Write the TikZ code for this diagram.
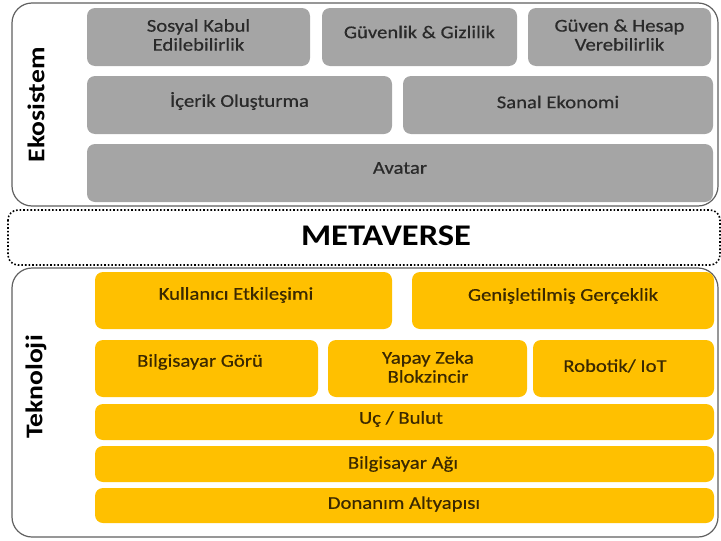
\documentclass[tikz,border=0pt]{standalone}
\usepackage{fontspec}
\setmainfont[FakeStretch=1.15]{Carlito}
\newfontfamily\boxfont[FakeStretch=1.15,FakeBold=0.5]{Carlito}
\definecolor{boxgray}{HTML}{A5A5A5}
\definecolor{boxyel}{HTML}{FFC000}
\definecolor{framegray}{HTML}{606060}
\definecolor{txtgray}{HTML}{2A2A2A}
\definecolor{txtyel}{HTML}{3A2800}
\begin{document}
\begin{tikzpicture}[x=1pt,y=-1pt,
  frame/.style={draw=framegray,line width=1.2pt,rounded corners=20pt},
  graybox/.style={fill=boxgray,rounded corners=8pt},
  yelbox/.style={fill=boxyel,rounded corners=8pt},
  gtext/.style={text=txtgray,font=\boxfont\fontsize{18}{19}\selectfont,align=center},
  ytext/.style={text=txtyel,font=\boxfont\fontsize{18}{19}\selectfont,align=center},
  side/.style={font=\bfseries\fontsize{24}{26}\selectfont,rotate=90,text=black}]
\useasboundingbox (0,0) rectangle (721,541);
% frames
\draw[frame] (12,3) rectangle (718,206);
\draw[black,line width=1.6pt,dotted,rounded corners=10pt] (8,210) rectangle (720,265);
\draw[frame] (12,268) rectangle (718,537);
\node[side] (eko) at (36,105) {Ekosistem};
\node[side] (tek) at (36,387) {Teknoloji};
\node[font=\bfseries\fontsize{30}{32}\selectfont] (meta) at (386,236) {METAVERSE};
% gray boxes
\fill[graybox] (87,8) rectangle (310,66);
\node[gtext] (sk) at (198.5,35) {Sosyal Kabul\\Edilebilirlik};
\fill[graybox] (322,8) rectangle (517,66);
\node[gtext] (gg) at (419.5,32) {Güvenlik \& Gizlilik};
\fill[graybox] (528,8) rectangle (711,66);
\node[gtext] (gh) at (619.5,35) {Güven \& Hesap\\Verebilirlik};
\fill[graybox] (87,76) rectangle (392,134);
\node[gtext] (io) at (239.5,101) {İçerik Oluşturma};
\fill[graybox] (403,76) rectangle (713,134);
\node[gtext] (se) at (558,102) {Sanal Ekonomi};
\fill[graybox] (87,144) rectangle (713,202);
\node[gtext] (av) at (400,168) {Avatar};
% yellow boxes
\fill[yelbox] (95,272) rectangle (392,329);
\node[ytext] (ke) at (236,295) {Kullanıcı Etkileşimi};
\fill[yelbox] (412,272) rectangle (714,329);
\node[ytext] (ge) at (563,296) {Genişletilmiş Gerçeklik};
\fill[yelbox] (95,340) rectangle (318,397);
\node[ytext] (bg) at (200,362) {Bilgisayar Görü};
\fill[yelbox] (328,340) rectangle (527,397);
\node[ytext] (yz) at (428,367) {Yapay Zeka\\Blokzincir};
\fill[yelbox] (533,340) rectangle (714,397);
\node[ytext] (ri) at (615,366) {Robotik/ IoT};
\fill[yelbox] (95,404) rectangle (714,440);
\node[ytext] (ub) at (401,419) {Uç / Bulut};
\fill[yelbox] (95,446) rectangle (714,482);
\node[ytext] (ba) at (403,464) {Bilgisayar Ağı};
\fill[yelbox] (95,488) rectangle (714,523);
\node[ytext] (da) at (404,504) {Donanım Altyapısı};
\end{tikzpicture}
\end{document}
